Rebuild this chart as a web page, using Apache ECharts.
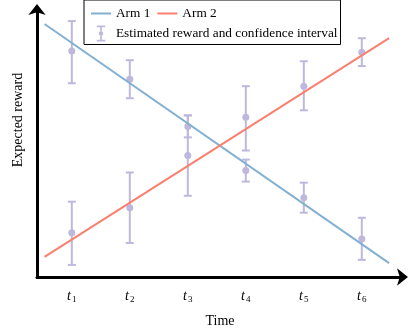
<!DOCTYPE html>
<html>
<head>
<meta charset="utf-8">
<script src="https://cdn.jsdelivr.net/npm/echarts@6/dist/echarts.min.js"></script>
<style>
  html, body { margin: 0; padding: 0; background: #fff; }
  #chart { width: 409px; height: 331px; }
</style>
</head>
<body>
<div id="chart"></div>
<script>
// time steps t1..t6
const timeSteps = [1, 2, 3, 4, 5, 6];
const timeSubs = ['1', '2', '3', '4', '5', '6'];

// true expected reward of each arm (straight lines)
const armX = [0.53, 6.47];
const arm1 = [9.44, 0.52];
const arm2 = [0.75, 8.91];

// estimated reward with confidence interval
const estT = [1, 2, 3, 4, 5, 6, 1, 2, 3, 4, 5, 6];
const estMean = [8.43, 7.38, 5.62, 5.96, 7.12, 8.39, 1.65, 2.58, 4.53, 3.97, 2.96, 1.42];
const estLow = [7.23, 6.67, 5.21, 4.72, 6.22, 7.87, 0.45, 1.27, 3.03, 3.56, 2.40, 0.64];
const estHigh = [9.55, 8.09, 6.03, 7.12, 8.05, 8.91, 2.81, 3.90, 6.03, 4.38, 3.52, 2.21];

const serif = '"Liberation Serif", "Times New Roman", serif';
const purple = '#BEB8DC';

const chart = echarts.init(document.getElementById('chart'));

// legend icons
const lineIcon = 'path://M0,0H20V2H0Z';
const errIcon = 'path://M0,0H10V2H0Z M4,2H6V7H4Z M4,12H6V17H4Z M0,17H10V19H0Z M2.3,9.5A2.7,2.7 0 1 0 7.7,9.5A2.7,2.7 0 1 0 2.3,9.5Z';

const option = {
  animation: false,
  grid: { left: 37, right: 6, top: 9, bottom: 54, outerBoundsMode: 'none' },
  legend: {
    left: 84,
    top: 0,
    orient: 'horizontal',
    width: 250,
    itemGap: 7,
    itemWidth: 20,
    itemHeight: 16,
    padding: [7, 3, 3, 7],
    borderColor: '#000',
    borderWidth: 1,
    textStyle: { fontFamily: serif, fontSize: 13.3, color: '#000' },
    data: [
      { name: 'Arm 1', icon: lineIcon, textStyle: { width: 47 } },
      { name: 'Arm 2', icon: lineIcon, textStyle: { width: 150 } },
      { name: 'Estimated reward and confidence interval', icon: errIcon }
    ]
  },
  xAxis: {
    type: 'value',
    min: 0.4,
    max: 6.71,
    name: 'Time',
    nameLocation: 'middle',
    nameGap: 37,
    nameTextStyle: { fontFamily: serif, fontSize: 14, color: '#000' },
    axisLine: {
      lineStyle: { color: '#000', width: 3 },
      symbol: ['none', 'arrow'],
      symbolSize: [13, 11],
      symbolOffset: [0, 5]
    },
    axisTick: { show: false },
    splitLine: { show: false },
    axisLabel: {
      customValues: timeSteps,
      margin: 12,
      formatter: v => '{t|t}{s|' + timeSubs[timeSteps.indexOf(v)] + '}',
      rich: {
        t: { fontFamily: serif, fontStyle: 'italic', fontSize: 14, color: '#000' },
        s: { fontFamily: serif, fontSize: 9, color: '#000', padding: [6, 0, 0, 1] }
      }
    }
  },
  yAxis: {
    type: 'value',
    min: 0,
    max: 10,
    axisLine: {
      show: true,
      lineStyle: { color: '#000', width: 3 },
      symbol: ['none', 'arrow'],
      symbolSize: [13, 11],
      symbolOffset: [0, 5]
    },
    axisTick: { show: false },
    axisLabel: { show: false },
    splitLine: { show: false }
  },
  graphic: [{
    type: 'text',
    x: 18,
    y: 120,
    rotation: Math.PI / 2,
    style: {
      text: 'Expected reward',
      fontFamily: serif,
      fontSize: 14,
      fill: '#000',
      align: 'center',
      verticalAlign: 'middle'
    }
  }],
  series: [
    {
      name: 'Arm 1',
      type: 'line',
      symbol: 'none',
      color: '#82B0D2',
      lineStyle: { width: 2 },
      data: armX.map((x, i) => [x, arm1[i]])
    },
    {
      name: 'Arm 2',
      type: 'line',
      symbol: 'none',
      color: '#FA7F6F',
      lineStyle: { width: 2 },
      data: armX.map((x, i) => [x, arm2[i]])
    },
    {
      name: 'Estimated reward and confidence interval',
      type: 'custom',
      color: purple,
      data: estT.map((t, i) => [t, estMean[i], estLow[i], estHigh[i]]),
      renderItem: (params, api) => {
        const x = api.coord([api.value(0), api.value(1)])[0];
        const yMean = api.coord([api.value(0), api.value(1)])[1];
        const yLow = api.coord([api.value(0), api.value(2)])[1];
        const yHigh = api.coord([api.value(0), api.value(3)])[1];
        const cap = 4;
        const ls = { stroke: purple, lineWidth: 2 };
        return {
          type: 'group',
          children: [
            { type: 'line', shape: { x1: x, y1: yLow, x2: x, y2: yHigh }, style: ls },
            { type: 'line', shape: { x1: x - cap, y1: yLow, x2: x + cap, y2: yLow }, style: ls },
            { type: 'line', shape: { x1: x - cap, y1: yHigh, x2: x + cap, y2: yHigh }, style: ls },
            { type: 'circle', shape: { cx: x, cy: yMean, r: 3.5 }, style: { fill: purple } }
          ]
        };
      },
      z: 1
    }
  ]
};

chart.setOption(option);
</script>
</body>
</html>
